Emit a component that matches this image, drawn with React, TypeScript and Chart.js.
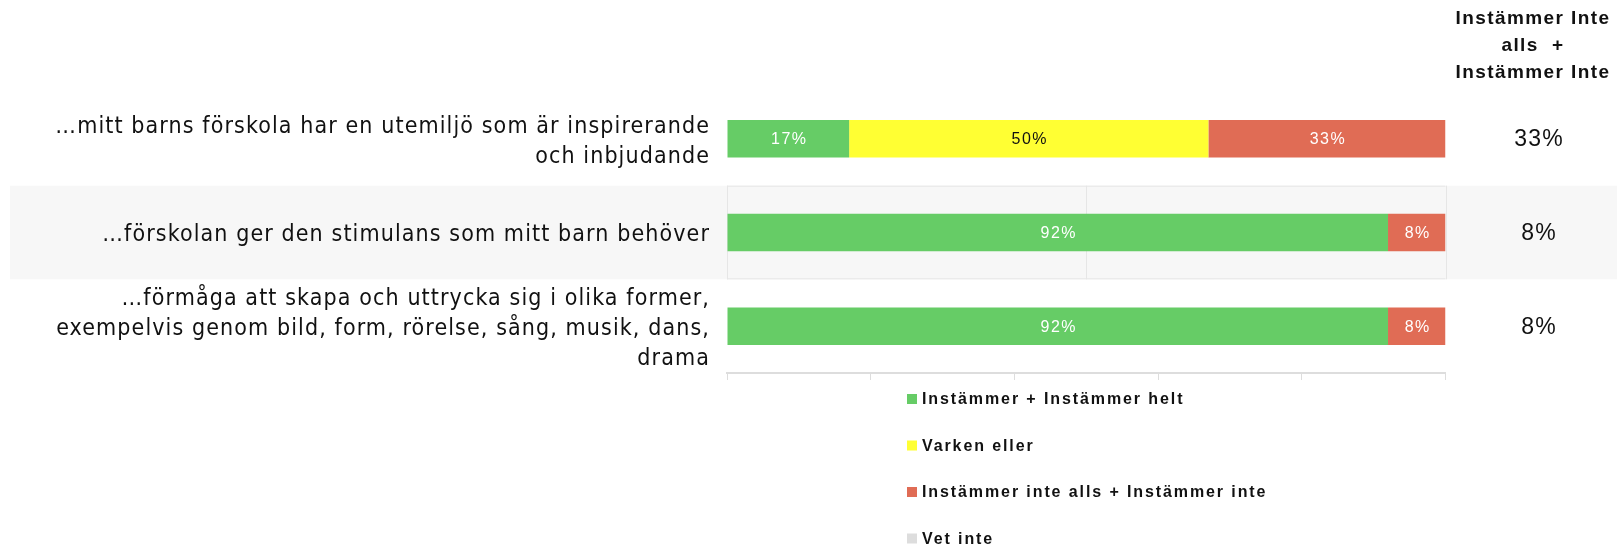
import React, { useEffect, useRef } from "react";
import { Chart, registerables } from "chart.js";

Chart.register(...registerables);

const categories: string[][] = [
  ["…mitt barns förskola har en utemiljö som är inspirerande", "och inbjudande"],
  ["…förskolan ger den stimulans som mitt barn behöver"],
  [
    "…förmåga att skapa och uttrycka sig i olika former,",
    "exempelvis genom bild, form, rörelse, sång, musik, dans,",
    "drama",
  ],
];

const seriesNames = [
  "Instämmer + Instämmer helt",
  "Varken eller",
  "Instämmer inte alls + Instämmer inte",
  "Vet inte",
];
const agreeValues = [17, 92, 92];
const neutralValues = [50, 0, 0];
const disagreeValues = [33, 8, 8];
const dontKnowValues = [0, 0, 0];
const seriesColors = ["#66cc66", "#ffff33", "#e06c55", "#dddddd"];
const labelColors = ["#ffffff", "#111111", "#ffffff", "#111111"];

const sideHeader = ["Instämmer Inte", "alls  +", "Instämmer Inte"];
const sideValues = ["33%", "8%", "8%"];

const LABEL_FONT = "'DejaVu Sans Condensed', 'DejaVu Sans', sans-serif";
const SANS = "'Liberation Sans', Arial, sans-serif";

const overlayPlugin = {
  id: "overlay",
  beforeDraw(chart: any) {
    (chart.ctx as any).letterSpacing = "1.1px";
  },
  beforeDatasetsDraw(chart: any) {
    const { ctx, chartArea, scales } = chart;
    (ctx as any).letterSpacing = "0px";
    const y = scales.y;
    const step = y.getPixelForValue(1) - y.getPixelForValue(0);
    const top = y.getPixelForValue(1) - step / 2;
    const bottom = y.getPixelForValue(1) + step / 2;
    ctx.save();
    ctx.globalCompositeOperation = "destination-over";
    ctx.fillStyle = "#f7f7f7";
    ctx.fillRect(10, top, chart.width - 10, bottom - top);
    ctx.restore();
    ctx.save();
    ctx.strokeStyle = "#e6e6e6";
    ctx.lineWidth = 1;
    ctx.beginPath();
    ctx.moveTo(chartArea.left, top + 0.5);
    ctx.lineTo(chartArea.right, top + 0.5);
    ctx.moveTo(chartArea.left, bottom - 0.5);
    ctx.lineTo(chartArea.right, bottom - 0.5);
    const xs = [0, 50, 100].map((v) => Math.round(scales.x.getPixelForValue(v)) + 0.5);
    xs.forEach((x) => {
      ctx.moveTo(x, top);
      ctx.lineTo(x, bottom);
    });
    ctx.stroke();
    ctx.restore();
  },
  afterDatasetsDraw(chart: any) {
    const { ctx } = chart;
    ctx.save();
    ctx.textAlign = "center";
    ctx.textBaseline = "middle";
    ctx.font = `500 16px ${SANS}`;
    (ctx as any).letterSpacing = "1.5px";
    chart.data.datasets.forEach((ds: any, di: number) => {
      const meta = chart.getDatasetMeta(di);
      meta.data.forEach((el: any, i: number) => {
        const v = ds.data[i];
        if (!v) return;
        ctx.fillStyle = labelColors[di];
        ctx.fillText(v + "%", (el.x + el.base) / 2 + 1, el.y + 1);
      });
    });
    ctx.restore();
  },
  afterDraw(chart: any) {
    const { ctx, scales } = chart;
    ctx.save();
    ctx.textAlign = "center";
    ctx.textBaseline = "middle";
    ctx.fillStyle = "#111111";
    ctx.font = `bold 19px ${SANS}`;
    (ctx as any).letterSpacing = "1.4px";
    sideHeader.forEach((t, i) => ctx.fillText(t, 1533, 19 + i * 27));
    ctx.font = `23px ${SANS}`;
    (ctx as any).letterSpacing = "1.2px";
    sideValues.forEach((t, i) => ctx.fillText(t, 1539, scales.y.getPixelForValue(i) + 1));
    ctx.textAlign = "left";
    ctx.font = `600 16px ${SANS}`;
    (ctx as any).letterSpacing = "1.9px";
    seriesNames.forEach((name, i) => {
      const cy = 399 + i * 46.5;
      ctx.fillStyle = seriesColors[i];
      ctx.fillRect(907, cy - 5, 10, 10);
      ctx.fillStyle = "#111111";
      ctx.fillText(name, 922, cy + 1);
    });
    ctx.restore();
  },
};

export default function App() {
  const ref = useRef<HTMLCanvasElement>(null);
  useEffect(() => {
    document.body.style.margin = "0";
    const values = [agreeValues, neutralValues, disagreeValues, dontKnowValues];
    const chart = new Chart(ref.current!, {
      type: "bar",
      data: {
        labels: categories as any,
        datasets: seriesNames.map((name, i) => ({
          label: name,
          data: values[i],
          backgroundColor: seriesColors[i],
          borderWidth: 0,
          barPercentage: 0.4,
          categoryPercentage: 1,
        })),
      },
      options: {
        indexAxis: "y",
        animation: false,
        responsive: true,
        maintainAspectRatio: false,
        layout: { padding: { top: 92, right: 171.5, bottom: 166, left: 0 } },
        plugins: {
          legend: { display: false },
          tooltip: { enabled: false },
        },
        scales: {
          x: {
            stacked: true,
            min: 0,
            max: 100,
            ticks: { display: false, stepSize: 20 },
            grid: { drawOnChartArea: false, drawTicks: true, tickLength: 7, color: "#dddddd" },
            border: { color: "#dddddd", width: 2 },
            afterFit: (s: any) => {
              s.height = 7;
            },
          },
          y: {
            stacked: true,
            grid: { display: false },
            border: { display: false },
            ticks: {
              color: "#111111",
              padding: 9,
              autoSkip: false,
              labelOffset: 3,
              font: { family: LABEL_FONT, size: 23, lineHeight: 1.3 },
            },
            afterFit: (s: any) => {
              s.width = 727;
            },
          },
        },
      },
      plugins: [overlayPlugin],
    });
    return () => chart.destroy();
  }, []);
  return (
    <div style={{ position: "absolute", left: 0, top: 0, width: 1617, height: 546 }}>
      <canvas ref={ref} />
    </div>
  );
}
